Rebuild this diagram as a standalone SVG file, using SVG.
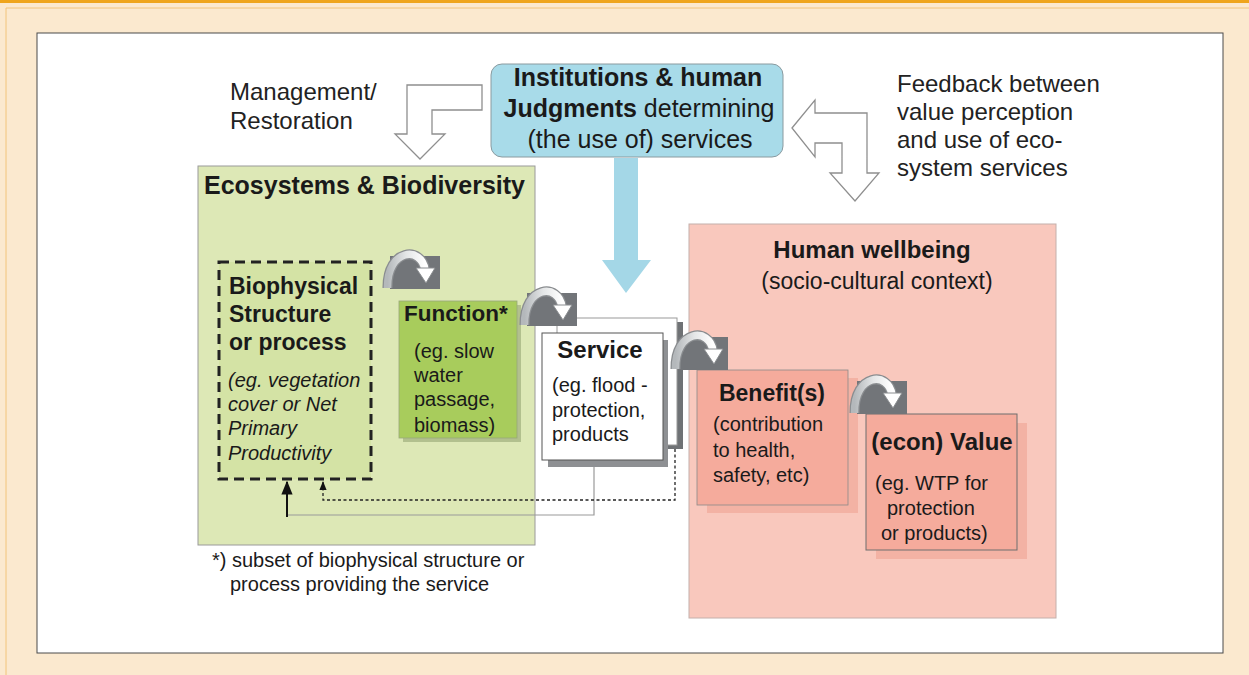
<svg xmlns="http://www.w3.org/2000/svg" width="1249" height="675" viewBox="0 0 1249 675">
<style>
text{font-family:"Liberation Sans",Arial,sans-serif;fill:#1a1a1a}
.t{font-size:24px;font-weight:bold}
.n{font-size:20px}
.lab{font-size:24px;fill:#222}
.conn{fill:none}
</style>
<defs>
<linearGradient id="arcg" x1="0" y1="0" x2="1" y2="0">
<stop offset="0" stop-color="#b4b8bb"/>
<stop offset="0.5" stop-color="#e4e6e7"/>
<stop offset="1" stop-color="#ffffff"/>
</linearGradient>
<g id="icon">
<rect x="0" y="0" width="50" height="33" fill="#727579"/>
<path d="M -2.5 32 C -3 -8, 32 -10, 35 14" fill="none" stroke="#8a8d90" stroke-width="10"/>
<path d="M -2.5 32 C -3 -8, 32 -10, 35 14" fill="none" stroke="url(#arcg)" stroke-width="7.5"/>
<polygon points="26,12 45,12 36,27" fill="#ffffff" stroke="#8a8d90" stroke-width="1"/>
</g>
<marker id="ah" viewBox="0 0 10 10" refX="9" refY="5" markerWidth="7" markerHeight="7" orient="auto">
<path d="M0,1 L10,5 L0,9 Z" fill="#111"/>
</marker>
</defs>

<rect x="0" y="0" width="1249" height="675" fill="#fbe9cf"/>
<rect x="0" y="0" width="1249" height="3" fill="#efa51c"/>
<path d="M6 675 V8 H1249" fill="none" stroke="#f2c47a" stroke-width="1"/>
<rect x="37" y="33" width="1186" height="620" fill="#ffffff" stroke="#4a4a4a" stroke-width="1"/>

<g id="management">
<path d="M407 85 H482 V110 H432 V134 H445 L420 159 L395 134 H407 Z" fill="#ffffff" stroke="#8f8f8f" stroke-width="1.3"/>
<text class="lab" x="230" y="100">Management/</text>
<text class="lab" x="230" y="129">Restoration</text>
</g>

<g id="feedback">
<path d="M792 128 L815 100 V113 H867 V173 H879 L855 201 L830 173 H842 V143 H815 V157 Z" fill="#ffffff" stroke="#8f8f8f" stroke-width="1.3"/>
<text class="lab" x="897" y="92">Feedback between</text>
<text class="lab" x="897" y="120">value perception</text>
<text class="lab" x="897" y="148">and use of eco-</text>
<text class="lab" x="897" y="176">system services</text>
</g>

<g id="ecosystems">
<rect x="198" y="166" width="337" height="379" fill="#dde8b6" stroke="#9a9a9a" stroke-width="1"/>
<text class="t" x="204" y="194" style="font-size:25px">Ecosystems &amp; Biodiversity</text>
</g>

<g id="human-wellbeing">
<rect x="689" y="224" width="367" height="394" fill="#f9c8bd" stroke="#c4b0ab" stroke-width="1"/>
<text class="t" x="872" y="258" text-anchor="middle">Human wellbeing</text>
<text x="877" y="289" text-anchor="middle" style="font-size:23px">(socio-cultural context)</text>
</g>

<g id="institutions">
<rect x="491" y="64" width="292" height="93" rx="11" fill="#a8dbe9" stroke="#8a9a9f" stroke-width="1"/>
<text x="638" y="86" text-anchor="middle" style="font-size:25px;font-weight:bold">Institutions &amp; human</text>
<text x="639" y="117" text-anchor="middle" style="font-size:25px"><tspan style="font-weight:bold">Judgments</tspan> determining</text>
<text x="640" y="148" text-anchor="middle" style="font-size:25px">(the use of) services</text>
<path d="M614 158 H638 V260 H651 L626 293 L602 260 H614 Z" fill="#a4d7e7"/>
</g>

<g id="biophysical">
<rect x="219" y="262" width="152" height="217" fill="#d4e3a5" stroke="#222" stroke-width="3" stroke-dasharray="10 6"/>
<text class="t" x="229" y="294" style="font-size:23px">Biophysical</text>
<text class="t" x="229" y="322" style="font-size:23px">Structure</text>
<text class="t" x="229" y="350" style="font-size:23px">or process</text>
<text class="n" x="228" y="387" font-style="italic">(eg. vegetation</text>
<text class="n" x="228" y="411" font-style="italic">cover or Net</text>
<text class="n" x="228" y="435" font-style="italic">Primary</text>
<text class="n" x="228" y="460" font-style="italic">Productivity</text>
</g>

<g id="function">
<rect x="403" y="305" width="118" height="137" fill="#b2c08e"/>
<rect x="399" y="301" width="118" height="137" fill="#a8cc5c" stroke="#97a77a" stroke-width="0.8"/>
<text class="t" x="404" y="321" style="font-size:22.5px">Function*</text>
<text class="n" x="414" y="358">(eg. slow</text>
<text class="n" x="414" y="382">water</text>
<text class="n" x="414" y="406">passage,</text>
<text class="n" x="414" y="432">biomass)</text>
</g>

<g id="service">
<rect x="563" y="322" width="120" height="127" fill="#6f7275"/>
<rect x="557" y="318" width="120" height="127" fill="#ffffff" stroke="#999" stroke-width="1"/>
<rect x="548" y="340" width="120" height="127" fill="#8e9093"/>
<rect x="542" y="333" width="121" height="127" fill="#ffffff" stroke="#555" stroke-width="1"/>
<text class="t" x="600" y="358" text-anchor="middle">Service</text>
<text class="n" x="552" y="392">(eg. flood -</text>
<text class="n" x="552" y="417">protection,</text>
<text class="n" x="552" y="441">products</text>
</g>

<g id="benefits">
<rect x="707" y="378" width="151" height="135" fill="#f3b2a4"/>
<rect x="697" y="370" width="151" height="135" fill="#f5ab9c" stroke="#8a8a8a" stroke-width="0.8"/>
<text class="t" x="772" y="401" text-anchor="middle" style="font-size:23px">Benefit(s)</text>
<text class="n" x="713" y="431">(contribution</text>
<text class="n" x="713" y="457">to health,</text>
<text class="n" x="713" y="482">safety, etc)</text>
</g>

<g id="value">
<rect x="876" y="423" width="151" height="136" fill="#f3b2a4"/>
<rect x="866" y="414" width="151" height="136" fill="#f5ab9c" stroke="#6e6e6e" stroke-width="1"/>
<text class="t" x="942" y="450" text-anchor="middle">(econ) Value</text>
<text class="n" x="875" y="490">(eg. WTP for</text>
<text class="n" x="887" y="515">protection</text>
<text class="n" x="881" y="540">or products)</text>
</g>

<g id="connectors">
<use href="#icon" x="390" y="256"/>
<use href="#icon" x="527" y="293"/>
<use href="#icon" x="678" y="337"/>
<use href="#icon" x="857" y="381"/>
<path class="conn" d="M594 467 V515 H287" stroke="#9a9a9a" stroke-width="1.2"/>
<path class="conn" d="M287 517 V482" stroke="#111" stroke-width="2" marker-end="url(#ah)"/>
<path class="conn" d="M675 449 V500 H323 V482" stroke="#222" stroke-width="1.3" stroke-dasharray="3 2.5" marker-end="url(#ah)"/>
</g>

<g id="footnote">
<text class="n" x="212" y="567">*) subset of biophysical structure or</text>
<text class="n" x="230" y="591">process providing the service</text>
</g>
</svg>
